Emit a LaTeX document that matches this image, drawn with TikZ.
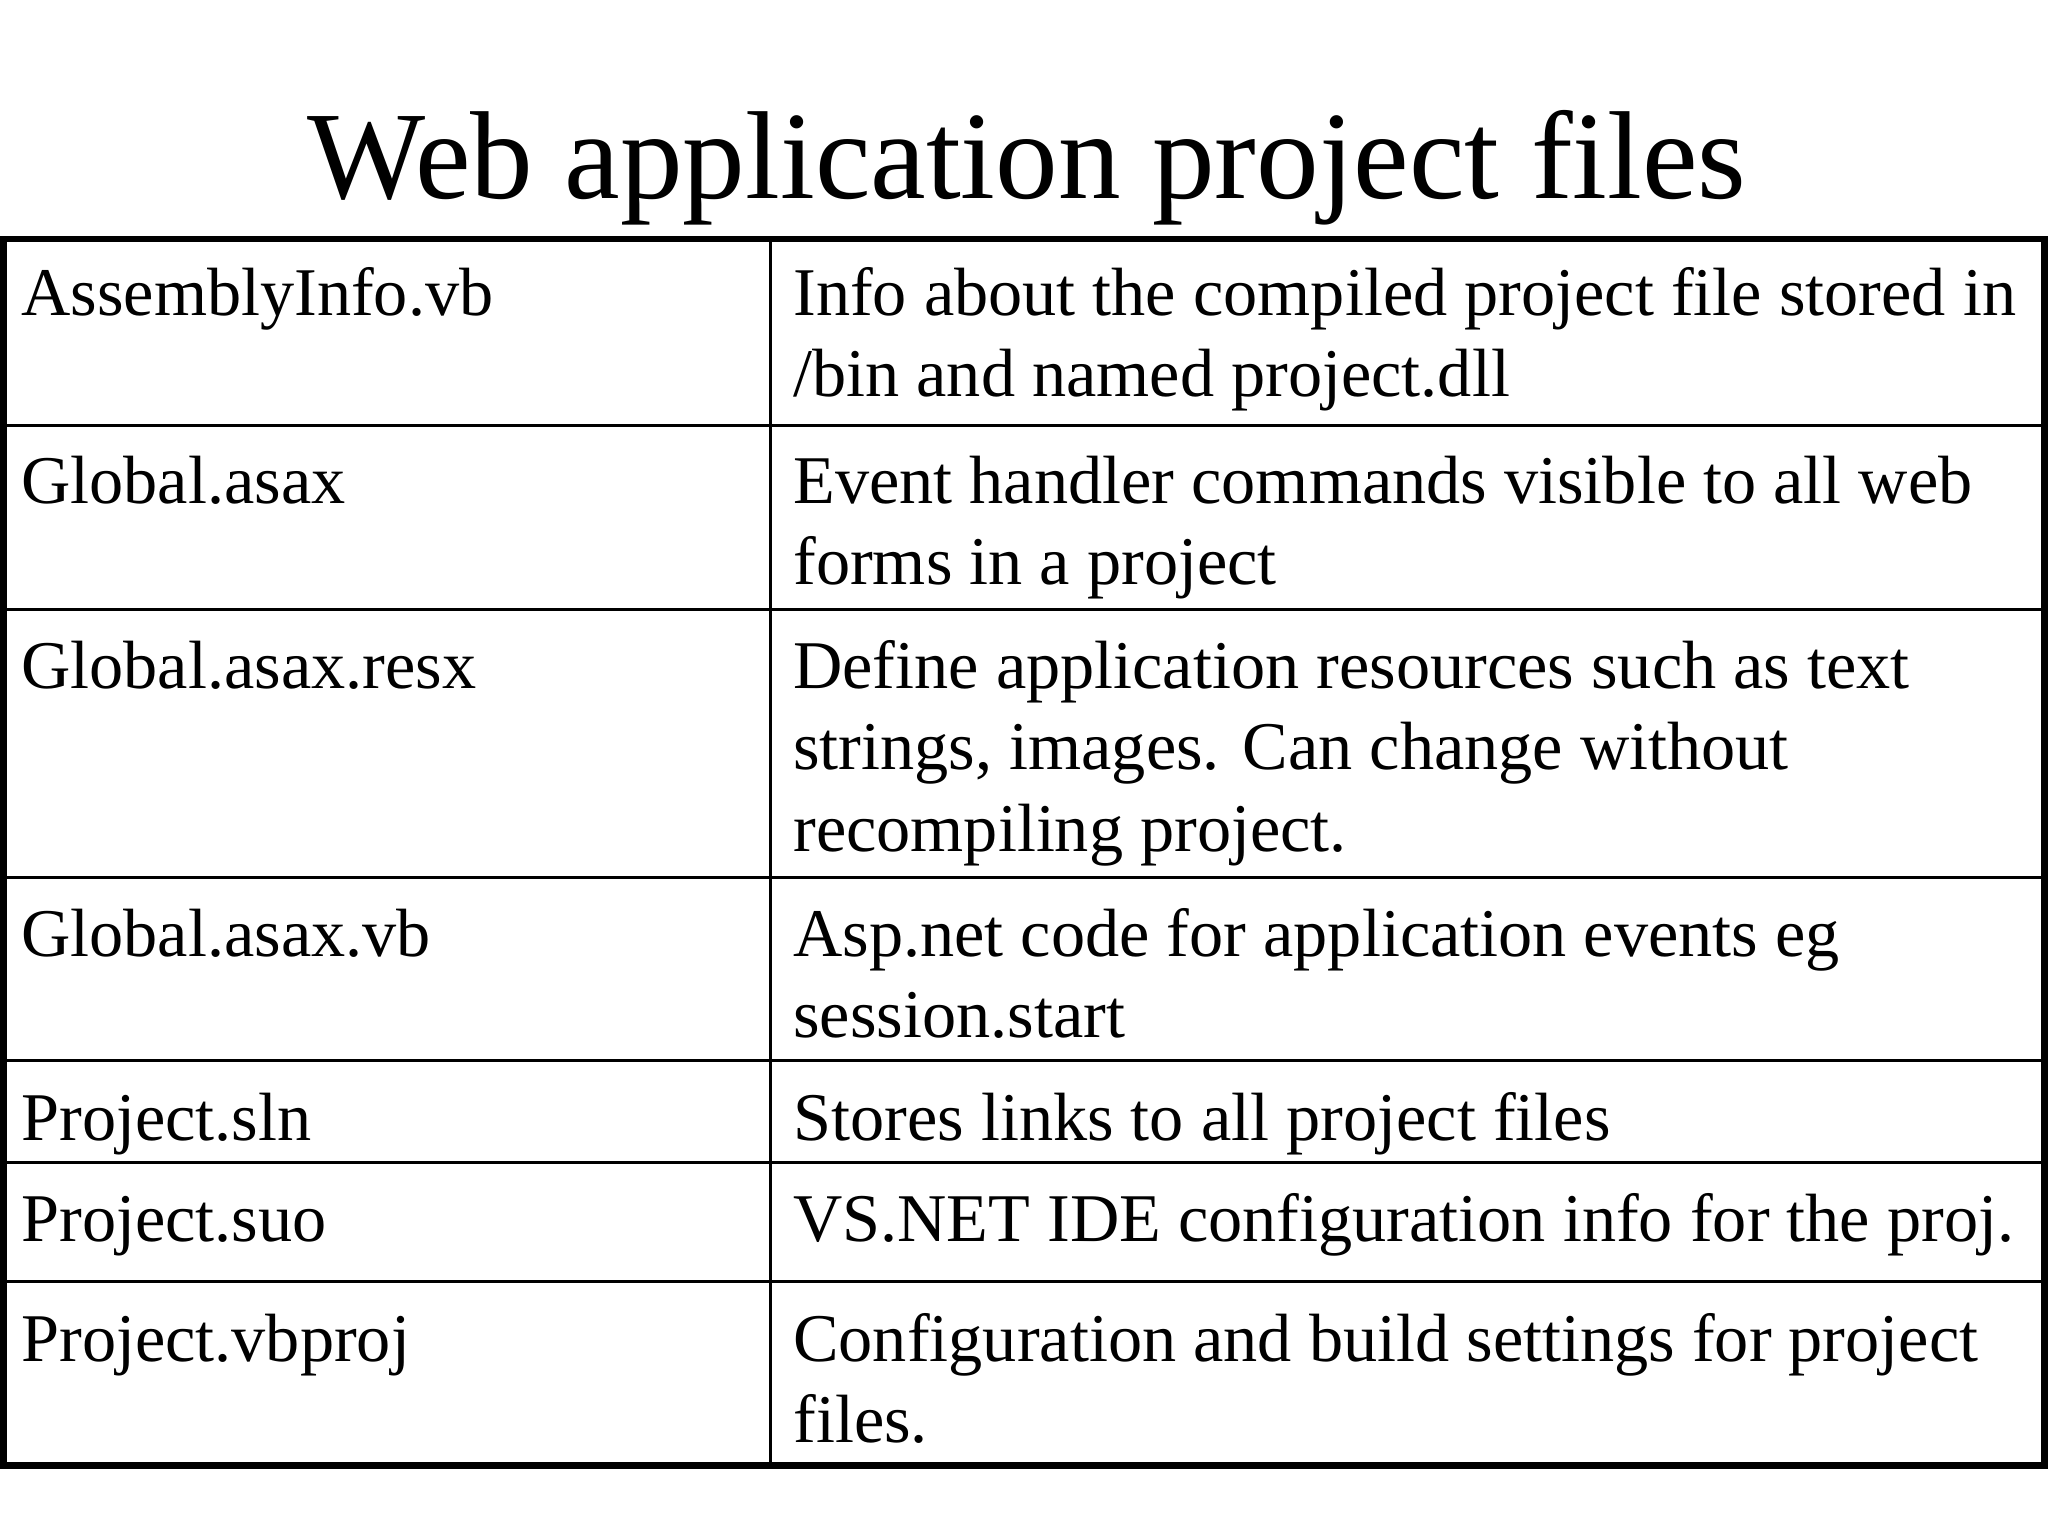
\documentclass[tikz,border=0pt]{standalone}
\usepackage{fontspec}
\setmainfont{Liberation Serif}
\begin{document}
\begin{tikzpicture}[x=1pt,y=-1pt,
  outer/.style={line width=2.25pt,line join=miter},
  inner/.style={line width=1pt},
  celltext/.style={anchor=north west,inner sep=0pt,align=left,font=\fontsize{24}{28.5}\selectfont},
  titletext/.style={anchor=base,inner sep=0pt,font=\fontsize{44}{50}\selectfont}]
\useasboundingbox (0,0) rectangle (720,540);
\fill[white] (0,0) rectangle (720,540);
\node[titletext] (title) at (361,69.8) {Web application project files};
% grid
\coordinate (tl) at (1.2,84);
\coordinate (br) at (718.8,515.2);
\foreach \y in {149.7,214.4,308.6,372.9,408.7,450.5}
  \draw[inner] (1.2,\y) -- (718.8,\y);
\draw[inner] (270.9,84) -- (270.9,515.2);
\draw[outer] (tl) rectangle (br);
% rows (node top = first baseline - 19.95)
\node[celltext] (a1) at (7.3,90.75) {\strut AssemblyInfo.vb};
\node[celltext] (b1) at (278.7,90.75) {\strut Info about the compiled project file stored in\\/bin and named project.dll};
\node[celltext] (a2) at (7.3,156.85) {\strut Global.asax};
\node[celltext] (b2) at (278.7,156.85) {\strut Event handler commands visible to all web\\forms in a project};
\node[celltext] (a3) at (7.3,222.05) {\strut Global.asax.resx};
\node[celltext] (b3) at (278.7,222.05) {\strut Define application resources such as text\\strings, images. Can change without\\recompiling project.};
\node[celltext] (a4) at (7.3,316.15) {\strut Global.asax.vb};
\node[celltext] (b4) at (278.7,316.15) {\strut Asp.net code for application events eg\\session.start};
\node[celltext] (a5) at (7.3,380.95) {\strut Project.sln};
\node[celltext] (b5) at (278.7,380.95) {\strut Stores links to all project files};
\node[celltext] (a6) at (7.3,416.25) {\strut Project.suo};
\node[celltext] (b6) at (278.7,416.25) {\strut VS.NET IDE configuration info for the proj.};
\node[celltext] (a7) at (7.3,458.55) {\strut Project.vbproj};
\node[celltext] (b7) at (278.7,458.55) {\strut Configuration and build settings for project\\files.};
\end{tikzpicture}
\end{document}
